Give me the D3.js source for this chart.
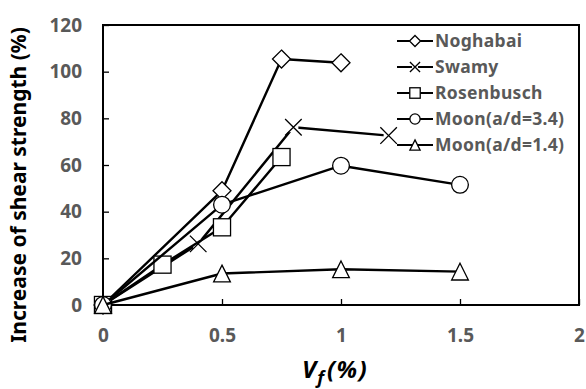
<!DOCTYPE html>
<html>
<head>
<meta charset="utf-8">
<script src="https://cdn.jsdelivr.net/npm/d3@7/dist/d3.min.js"></script>
<style>
  html, body { margin: 0; padding: 0; background: #fff; }
  svg { display: block; }
  text { font-family: "Noto Sans", "Open Sans", sans-serif; font-weight: bold; }
</style>
</head>
<body>
<svg id="chart" width="586" height="389"></svg>
<script>
// Fibre volume fraction Vf (%) and increase of shear strength (%) per study
const seriesNames = ["Noghabai", "Swamy", "Rosenbusch", "Moon(a/d=3.4)", "Moon(a/d=1.4)"];
const seriesMarkers = ["diamond", "cross", "square", "circle", "triangle"];

const noghabaiVf = [0, 0.5, 0.75, 1.0];
const noghabaiInc = [0, 49, 105.4, 103.8];

const swamyVf = [0, 0.4, 0.8, 1.2];
const swamyInc = [0, 26.2, 76.2, 72.6];

const rosenbuschVf = [0, 0.25, 0.5, 0.75];
const rosenbuschInc = [0, 17.3, 33.3, 63.4];

const moon34Vf = [0, 0.5, 1.0, 1.5];
const moon34Inc = [0, 43, 59.7, 51.5];

const moon14Vf = [0, 0.5, 1.0, 1.5];
const moon14Inc = [0, 13.5, 15.3, 14.3];

const xTicks = [0, 0.5, 1, 1.5, 2];
const yTicks = [0, 20, 40, 60, 80, 100, 120];

const seriesData = [
  [noghabaiVf, noghabaiInc],
  [swamyVf, swamyInc],
  [rosenbuschVf, rosenbuschInc],
  [moon34Vf, moon34Inc],
  [moon14Vf, moon14Inc]
].map(([xs, ys], i) => ({
  name: seriesNames[i],
  marker: seriesMarkers[i],
  points: xs.map((x, j) => ({ x, y: ys[j] }))
}));

const svg = d3.select("#chart");
const plot = { left: 103, right: 579, top: 25, bottom: 305 };

const x = d3.scaleLinear().domain([0, 2]).range([plot.left, plot.right]);
const y = d3.scaleLinear().domain([0, 120]).range([plot.bottom, plot.top]);

const tickColor = "#595959";

// Axes with inward ticks
const xAxis = svg.append("g")
  .attr("transform", `translate(0,${plot.bottom})`)
  .call(d3.axisBottom(x).tickValues(xTicks).tickSize(-6).tickPadding(24)
    .tickFormat(d => d3.format("")(d)));
xAxis.select(".domain").remove();
xAxis.selectAll(".tick line").attr("stroke", "#000").attr("stroke-width", 1.3);
xAxis.selectAll(".tick text").attr("fill", tickColor).attr("font-size", 19)
  .attr("font-family", "\"Noto Sans\", sans-serif").attr("font-weight", "bold");

const yAxis = svg.append("g")
  .attr("transform", `translate(${plot.left},0)`)
  .call(d3.axisLeft(y).tickValues(yTicks).tickSize(-6).tickPadding(21));
yAxis.select(".domain").remove();
yAxis.selectAll(".tick line").attr("stroke", "#000").attr("stroke-width", 1.3);
yAxis.selectAll(".tick text").attr("fill", tickColor).attr("font-size", 19)
  .attr("font-family", "\"Noto Sans\", sans-serif").attr("font-weight", "bold");

// Plot frame
svg.append("rect")
  .attr("x", plot.left).attr("y", plot.top)
  .attr("width", plot.right - plot.left).attr("height", plot.bottom - plot.top)
  .attr("fill", "none").attr("stroke", "#000").attr("stroke-width", 2);

// Marker drawing
function drawMarker(g, type, s) {
  const sw = 1.3;
  if (type === "diamond") {
    g.append("path").attr("d", `M0,${-s}L${s},0L0,${s}L${-s},0Z`)
      .attr("fill", "#fff").attr("stroke", "#000").attr("stroke-width", sw);
  } else if (type === "square") {
    const h = s * 0.95;
    g.append("rect").attr("x", -h).attr("y", -h).attr("width", 2 * h).attr("height", 2 * h)
      .attr("fill", "#fff").attr("stroke", "#000").attr("stroke-width", sw);
  } else if (type === "circle") {
    g.append("circle").attr("r", s * 0.93)
      .attr("fill", "#fff").attr("stroke", "#000").attr("stroke-width", sw);
  } else if (type === "triangle") {
    const h = s * 0.93;
    g.append("path").attr("d", `M0,${-h}L${h},${h}L${-h},${h}Z`)
      .attr("fill", "#fff").attr("stroke", "#000").attr("stroke-width", sw);
  } else if (type === "cross") {
    const h = s * 0.92;
    g.append("rect").attr("x", -h * 0.6).attr("y", -h * 0.6).attr("width", h * 1.2).attr("height", h * 1.2)
      .attr("fill", "#fff");
    g.append("path").attr("d", `M${-h},${-h}L${h},${h}M${h},${-h}L${-h},${h}`)
      .attr("fill", "none").attr("stroke", "#000").attr("stroke-width", sw);
  }
}

const line = d3.line().x(d => x(d.x)).y(d => y(d.y));

seriesData.forEach(s => {
  const g = svg.append("g");
  g.append("path").datum(s.points).attr("d", line)
    .attr("fill", "none").attr("stroke", "#000").attr("stroke-width", 2.4)
    .attr("stroke-linejoin", "round");
  s.points.forEach(p => {
    const m = g.append("g").attr("transform", `translate(${x(p.x)},${y(p.y)})`);
    drawMarker(m, s.marker, 9);
  });
});

// Legend
const legend = svg.append("g");
const legendX0 = 397, legendX1 = 433, legendY0 = 41, legendStep = 26;
seriesData.forEach((s, i) => {
  const ly = legendY0 + i * legendStep;
  legend.append("line").attr("x1", legendX0).attr("x2", legendX1)
    .attr("y1", ly).attr("y2", ly).attr("stroke", "#000").attr("stroke-width", 2.2);
  const m = legend.append("g").attr("transform", `translate(${(legendX0 + legendX1) / 2},${ly})`);
  drawMarker(m, s.marker, 5.5);
  legend.append("text").attr("x", 435).attr("y", ly).attr("dy", "0.36em")
    .attr("font-size", 17.5).attr("letter-spacing", 0.3).attr("fill", tickColor).text(s.name);
});

// Axis titles
svg.append("text")
  .attr("transform", `translate(26,185) rotate(-90)`)
  .attr("text-anchor", "middle").attr("font-size", 21).attr("fill", "#000")
  .text("Increase of shear strength (%)");

const xt = svg.append("text")
  .attr("x", 302).attr("y", 378)
  .attr("font-size", 24).attr("font-style", "italic").attr("fill", "#000");
xt.append("tspan").text("V");
xt.append("tspan").attr("font-size", 18).attr("dy", 6).attr("dx", 1).text("f");
xt.append("tspan").attr("dy", -6).attr("dx", 3).attr("letter-spacing", 1.5).text("(%)");
</script>
</body>
</html>
